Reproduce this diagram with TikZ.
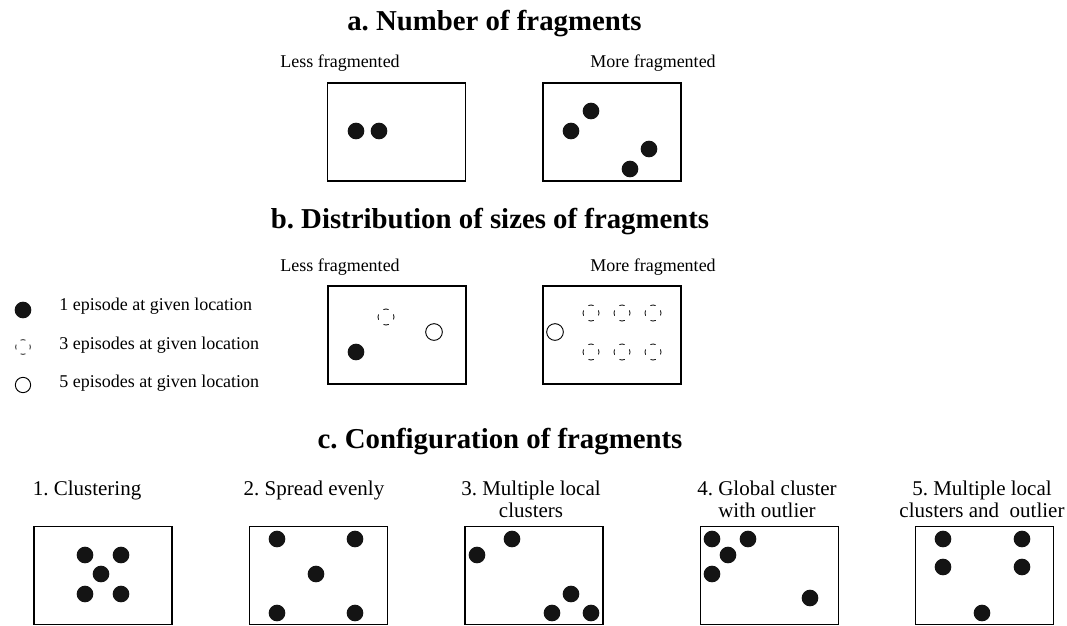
\documentclass[tikz,border=0pt]{standalone}
\usepackage{fontspec}
\setmainfont{Liberation Serif}
\usetikzlibrary{positioning}
\tikzset{
  panelbox/.style={
    rectangle, draw=black, line width=1pt,
    minimum width=103.5pt, minimum height=73.5pt,
    inner sep=0pt
  },
  onedot/.style={
    circle, fill=black!92, inner sep=0pt, minimum size=12.5pt
  },
  threedot/.style={
    circle, draw=black, line width=0.6pt, inner sep=0pt, minimum size=12pt,
    dash pattern=on 4pt off 5.4pt, dash phase=2pt
  },
  fivedot/.style={
    circle, draw=black, line width=0.7pt, inner sep=0pt, minimum size=12.5pt
  },
  sectitle/.style={
    anchor=base, font=\fontsize{21.6}{26}\selectfont\bfseries
  },
  sublabel/.style={
    anchor=base, font=\fontsize{13.5}{16}\selectfont
  },
  cfglabel/.style={
    anchor=base, align=center, font=\fontsize{15.75}{16.5}\selectfont
  },
}
\begin{document}
\frenchspacing
\begin{tikzpicture}[x=0.75pt, y=-0.75pt]
\useasboundingbox (0,0) rectangle (1067,625);

% a. Number of fragments
\node[sectitle] (title_a) at (494.5,30) {a. Number of fragments};
\node[sublabel] (a_less) at (340,67) {Less fragmented};
\node[sublabel] (a_more) at (653,67) {More fragmented};
\node[panelbox] (a_box1) at (396.5,132) {};
\node[panelbox] (a_box2) at (612,132) {};
\node[onedot] (a1_d1) at (356,131) {};
\node[onedot] (a1_d2) at (379,131) {};
\node[onedot] (a2_d1) at (571,131) {};
\node[onedot] (a2_d2) at (591,111) {};
\node[onedot] (a2_d3) at (649,149) {};
\node[onedot] (a2_d4) at (630,169) {};

% b. Distribution of sizes of fragments
\node[sectitle] (title_b) at (490,228) {b. Distribution of sizes of fragments};
\node[sublabel] (b_less) at (340,271) {Less fragmented};
\node[sublabel] (b_more) at (653,271) {More fragmented};
\node[panelbox] (b_box1) at (397,335) {};
\node[panelbox] (b_box2) at (612,335) {};
\node[threedot] (b1_d1) at (386,317) {};
\node[onedot] (b1_d2) at (356,352) {};
\node[fivedot] (b1_d3) at (434,332) {};
\node[fivedot] (b2_d0) at (555,332) {};
\foreach \col/\xx in {1/591,2/622,3/653}{
  \node[threedot] (b2_u\col) at (\xx,313) {};
  \node[threedot] (b2_l\col) at (\xx,352) {};
}

% legend
\node[onedot, minimum size=12.5pt] (key_one) at (23,310) {};
\node[threedot, minimum size=11pt, dash pattern=on 3.6pt off 5pt, dash phase=1.8pt] (key_three) at (23,347) {};
\node[fivedot, minimum size=11.5pt] (key_five) at (23,385) {};
\node[sublabel, anchor=base west, inner sep=0pt] (key_one_txt) at (59,310) {1 episode at given location};
\node[sublabel, anchor=base west, inner sep=0pt] (key_three_txt) at (59,349) {3 episodes at given location};
\node[sublabel, anchor=base west, inner sep=0pt] (key_five_txt) at (59,387) {5 episodes at given location};

% c. Configuration of fragments
\node[sectitle] (title_c) at (500,448) {c. Configuration of fragments};
\node[cfglabel] (c_lab1) at (87,495) {1. Clustering};
\node[cfglabel] (c_lab2) at (314,495) {2. Spread evenly};
% two-line labels: base is the last line
\node[cfglabel] (c_lab3) at (531,517) {3. Multiple local\\clusters};
\node[cfglabel] (c_lab4) at (767,517) {4. Global cluster\\with outlier};
\node[cfglabel] (c_lab5) at (982,517) {5. Multiple local\\clusters and\ \ outlier};
\node[panelbox] (c_box1) at (103,575.5) {};
\node[panelbox] (c_box2) at (318.5,575.5) {};
\node[panelbox] (c_box3) at (534,575.5) {};
\node[panelbox] (c_box4) at (769.5,575.5) {};
\node[panelbox] (c_box5) at (984.5,575.5) {};

% dots of c
\foreach \nm/\xx/\yy in {c1_d1/85/555, c1_d2/121/555, c1_d3/101/574, c1_d4/85/594, c1_d5/121/594,
  c2_d1/277/539, c2_d2/355/539, c2_d3/316/574, c2_d4/277/613, c2_d5/355/613,
  c3_d1/477/555, c3_d2/512/539, c3_d3/571/594, c3_d4/552/613, c3_d5/591/613,
  c4_d1/712/539, c4_d2/748/539, c4_d3/728/555, c4_d4/712/574, c4_d5/810/598,
  c5_d1/943/539, c5_d2/1022/539, c5_d3/943/567, c5_d4/1022/567, c5_d5/982/613}{
  \node[onedot] (\nm) at (\xx,\yy) {};
}

\end{tikzpicture}
\end{document}
